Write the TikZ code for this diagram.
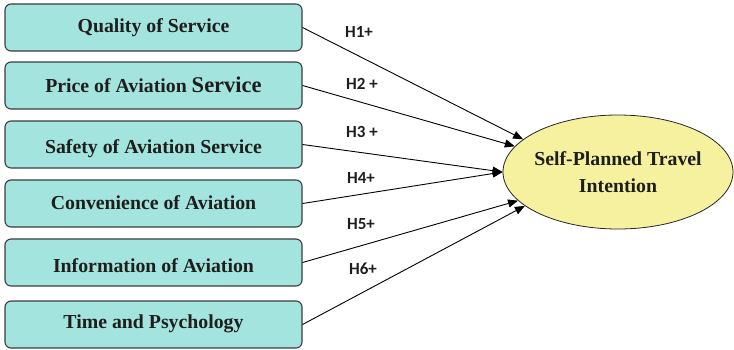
\documentclass[tikz,border=0pt]{standalone}
\usepackage{fontspec}
\setmainfont{Liberation Serif}
\newfontfamily\labfont{Carlito}
\usetikzlibrary{arrows.meta,shapes.geometric}
\definecolor{boxfill}{RGB}{164,228,222}
\definecolor{boxline}{RGB}{60,60,60}
\definecolor{ellfill}{RGB}{246,241,158}
\definecolor{txt}{RGB}{30,30,30}
\tikzset{
  factor/.style={draw=boxline, line width=1.1pt, fill=boxfill, rounded corners=6pt,
    minimum width=297pt, minimum height=47pt, inner sep=0pt, text height=13pt, text depth=4pt,
    font=\fontsize{19.8}{22}\selectfont\bfseries, text=txt},
  target/.style={draw=black!85, line width=0.8pt, fill=ellfill, ellipse,
    minimum width=230pt, minimum height=114pt, inner sep=0pt},
  targettext/.style={align=center, inner sep=0pt,
    font=\fontsize{19.8}{27}\selectfont\bfseries, text=txt},
  hyp/.style={font=\labfont\fontsize{17}{19}\selectfont\bfseries, text=txt, inner sep=0pt},
  link/.style={draw=black, line width=0.9pt, -{Triangle[length=10pt,width=8pt]}}
}
\begin{document}
\begin{tikzpicture}[x=1pt,y=-1pt]
\useasboundingbox (0,0) rectangle (734,349);
\node[factor] (b1) at (153.5,27.5) {Quality of Service};
\node[factor] (b2) at (153.5,85.5) {\raisebox{-2pt}{Price of Aviation {\fontsize{22.5}{24}\selectfont Service}}};
\node[factor] (b3) at (153.5,144.5) {\raisebox{-4pt}{Safety of Aviation Service}};
\node[factor] (b4) at (153.5,203.5) {\raisebox{-1pt}{Convenience of Aviation}};
\node[factor] (b5) at (153.5,262.5) {\raisebox{-5pt}{Information of Aviation}};
\node[factor] (b6) at (153.5,324.5) {\raisebox{1pt}{Time and Psychology}};
\node[target] (e) at (618,172) {};
\node[targettext] (et) at (e.center) {Self-Planned Travel\\Intention};
\draw[link] (b1.east) -- (e.161);
\draw[link] (b2.east) -- (e.166);
\draw[link] (b3.east) -- (e.180);
\draw[link] (b4.east) -- (e.180);
\draw[link] (b5.east) -- (e.196);
\draw[link] (b6.east) -- (e.200);
\node[hyp] (h1) at (359,32) {H1+};
\node[hyp] (h2) at (362,84) {H2 +};
\node[hyp] (h3) at (362,132) {H3 +};
\node[hyp] (h4) at (361,178) {H4+};
\node[hyp] (h5) at (361,224) {H5+};
\node[hyp] (h6) at (363,269) {H6+};
\end{tikzpicture}
\end{document}
